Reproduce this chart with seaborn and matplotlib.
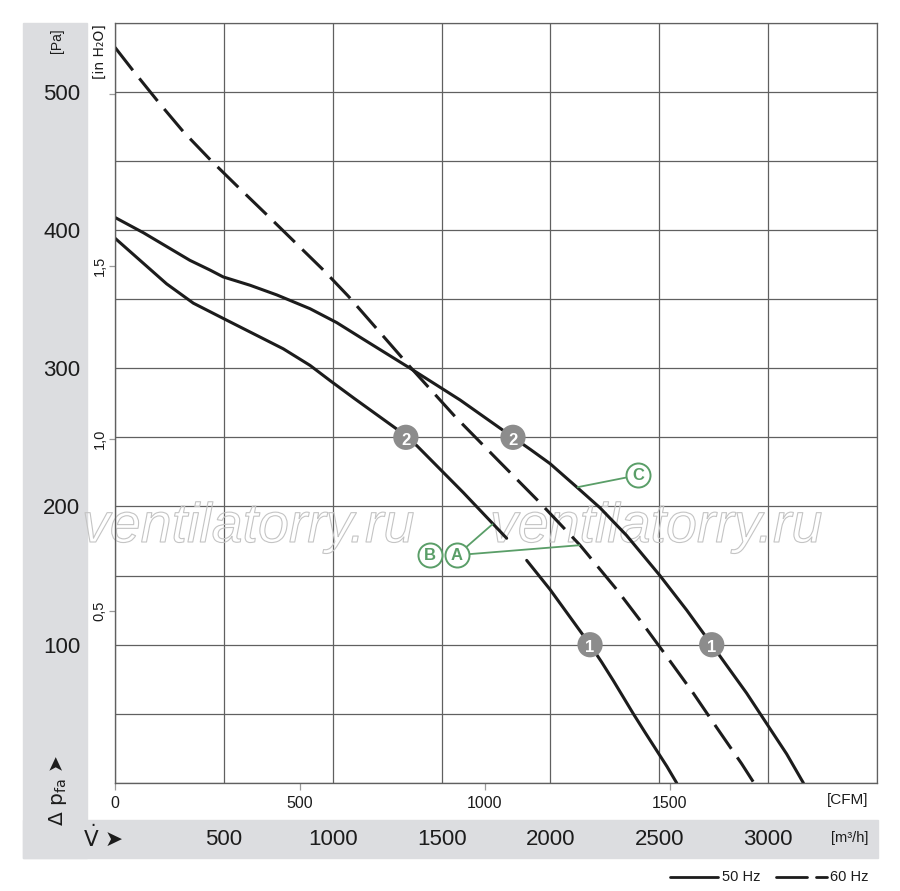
import matplotlib
matplotlib.use("Agg")
import matplotlib.pyplot as plt
import matplotlib.patheffects as pe
from matplotlib.patches import Rectangle
from matplotlib.lines import Line2D
from matplotlib.ticker import MultipleLocator, FuncFormatter
import seaborn as sns
import numpy as np
import pandas as pd

# fan curves: air flow [m³/h] vs static pressure [Pa]
flow_60 = [0, 84, 207, 314, 436, 559, 697, 827, 957, 1072, 1355, 1562, 1768, 1944, 2136,
           2304, 2420, 2518, 2656, 2764, 2878, 2935]
pa_60 = [532, 515, 491, 471, 451, 432, 411, 391, 371, 352, 301, 265, 232, 204, 172,
         140, 116, 95, 65, 40, 14, 0]

flow_50_hi = [0, 130, 344, 436, 497, 620, 743, 896, 1018, 1140, 1355, 1585, 1828, 1910, 1998,
              2121, 2228, 2350, 2503, 2626, 2741, 2901, 2993, 3085, 3162]
pa_50_hi = [409, 398, 378, 371, 366, 360, 353, 343, 333, 321, 300, 277, 250, 241, 231,
            214, 199, 179, 150, 125, 100, 65, 43, 21, 0]

# lower 50 Hz curve is drawn in two pieces (gap near label B)
flow_50_lo_a = [0, 237, 360, 497, 635, 773, 896, 988, 1100, 1294, 1336, 1386, 1600, 1799]
pa_50_lo_a = [394, 361, 347, 336, 325, 314, 302, 291, 278, 256, 250, 244, 210, 177]
flow_50_lo_b = [1891, 1998, 2090, 2182, 2235, 2289, 2335, 2381, 2435, 2488, 2535, 2580]
pa_50_lo_b = [161, 140, 120, 100, 87.5, 74, 62, 50, 36.5, 23.5, 12, 0]

# operating points
op_labels = ["2", "2", "1", "1"]
op_flow = [1336, 1828, 2182, 2741]
op_pa = [250, 250, 100, 100]

m3h_ticks = [500, 1000, 1500, 2000, 2500, 3000]
cfm_ticks = [0, 500, 1000, 1500]
pa_ticks = [100, 200, 300, 400, 500]
inh2o_ticks = [0.5, 1.0, 1.5, 2.0]
inh2o_labels = ["0,5", "1,0", "1,5", ""]

M3H_PER_CFM = 1.699
PA_PER_INH2O = 249.09
W, H = 900, 891

sns.set_style("white")
plt.rcParams["font.family"] = ["Liberation Sans", "DejaVu Sans"]

GRAY_BG = "#dcdde0"
GRID = "#606060"
INK = "#1c1c1c"
GREEN = "#5a9e68"


def fx(px):
    return px / W


def fy(py):
    return 1 - py / H


fig = plt.figure(figsize=(W / 100, H / 100), dpi=100)

# grey panels
fig.add_artist(Rectangle((fx(23), fy(858)), (87 - 23) / W, (858 - 23) / H,
                         transform=fig.transFigure, color=GRAY_BG, zorder=-1))
fig.add_artist(Rectangle((fx(23), fy(858)), (878 - 23) / W, (858 - 820) / H,
                         transform=fig.transFigure, color=GRAY_BG, zorder=-1))

ax = fig.add_axes([fx(115), fy(783), (877 - 115) / W, (783 - 22.5) / H])
ax.set_axisbelow(True)

# curves
curves = pd.concat([
    pd.DataFrame({"flow": flow_60, "pa": pa_60, "seg": "A", "freq": "60 Hz"}),
    pd.DataFrame({"flow": flow_50_hi, "pa": pa_50_hi, "seg": "C", "freq": "50 Hz"}),
    pd.DataFrame({"flow": flow_50_lo_a, "pa": pa_50_lo_a, "seg": "B1", "freq": "50 Hz"}),
    pd.DataFrame({"flow": flow_50_lo_b, "pa": pa_50_lo_b, "seg": "B2", "freq": "50 Hz"}),
], ignore_index=True)

sns.lineplot(data=curves, x="flow", y="pa", units="seg", estimator=None, style="freq",
             dashes={"50 Hz": "", "60 Hz": (9.5, 3.4)}, color=INK, lw=2.2,
             sort=False, legend=False, ax=ax, zorder=2)

# annotation leaders (A, B, C)
lab_a = (1571, 164.8)
lab_b = (1447, 164.8)
lab_c = (2402, 222.6)
tgt_c = 2122
tgt_a1 = 2136
tgt_a2 = 1736
lead_kw = dict(color=GREEN, lw=1.3, zorder=3, solid_capstyle="butt")
ax.plot([lab_c[0], tgt_c], [lab_c[1], np.interp(tgt_c, flow_50_hi, pa_50_hi)], **lead_kw)
ax.plot([lab_a[0], tgt_a1], [lab_a[1], np.interp(tgt_a1, flow_60, pa_60)], **lead_kw)
ax.plot([lab_a[0], tgt_a2], [lab_a[1], np.interp(tgt_a2, flow_50_lo_a, pa_50_lo_a)], **lead_kw)
for (lx, ly), t in [(lab_b, "B"), (lab_a, "A"), (lab_c, "C")]:
    ax.scatter([lx], [ly], s=300, facecolor="white", edgecolor=GREEN, lw=1.4, zorder=5)
    ax.text(lx, ly, t, color=GREEN, fontsize=12, fontweight="bold",
            ha="center", va="center", zorder=6)

# operating point markers
sns.scatterplot(x=op_flow, y=op_pa, s=330, color="#8c8c8c", edgecolor="none",
                ax=ax, zorder=5, legend=False)
for f, p, t in zip(op_flow, op_pa, op_labels):
    ax.text(f, p - 2, t, color="white", fontsize=12, fontweight="bold",
            ha="center", va="center", zorder=6)

# axes, grid
ax.set_xlim(0, 3500)
ax.set_ylim(0, 550)
ax.xaxis.set_major_locator(MultipleLocator(500))
ax.yaxis.set_major_locator(MultipleLocator(50))
ax.grid(True, color=GRID, lw=0.9)
ax.xaxis.set_major_formatter(FuncFormatter(lambda v, p: f"{v:.0f}" if round(v) in m3h_ticks else ""))
ax.yaxis.set_major_formatter(FuncFormatter(lambda v, p: f"{v:.0f}" if round(v) in pa_ticks else ""))
ax.tick_params(axis="x", length=0, pad=33, labelsize=16, labelcolor=INK)
ax.tick_params(axis="y", length=0, pad=25, labelsize=16, labelcolor=INK)
ax.set_xlabel("")
ax.set_ylabel("")
for s in ax.spines.values():
    s.set_color(GRID)
    s.set_linewidth(0.9)

secx = ax.secondary_xaxis("bottom", functions=(lambda x: x / M3H_PER_CFM, lambda x: x * M3H_PER_CFM))
secx.set_xticks(cfm_ticks)
secx.set_xticklabels([str(c) for c in cfm_ticks])
secx.tick_params(length=5, width=0.9, color="#9a9a9a", pad=4, labelsize=11.5, labelcolor=INK)
secx.spines["bottom"].set_color(GRID)

secy = ax.secondary_yaxis("left", functions=(lambda p: p / PA_PER_INH2O, lambda i: i * PA_PER_INH2O))
secy.set_yticks(inh2o_ticks)
secy.set_yticklabels(inh2o_labels, rotation=90, va="center")
secy.tick_params(length=4, width=0.9, color="#9a9a9a", pad=2, labelsize=10.5, labelcolor=INK)
secy.spines["left"].set_color(GRID)

# watermarks
for cx in (82, 490):
    ax.text(fx(cx), fy(542), "ventilatorry.ru", transform=fig.transFigure,
            fontsize=40, style="italic", family=["Liberation Sans", "DejaVu Sans"],
            color=(1, 1, 1, 0), ha="left", va="baseline", clip_on=False, zorder=1.5,
            path_effects=[pe.Stroke(linewidth=0.8, foreground="#c4c4c4")])

# axis titles and units
fig.text(fx(57), fy(41), "[Pa]", rotation=90, ha="center", va="center", fontsize=10, color=INK)
fig.text(fx(100), fy(52), "[in H₂O]", rotation=90, ha="center", va="center", fontsize=10,
         color=INK, family=["DejaVu Sans"])
fig.text(fx(58), fy(790), "Δ $\\mathregular{p_{fa}}$ ➤", rotation=90, ha="center", va="center",
         fontsize=14.5, color=INK, family=["DejaVu Sans"])
fig.text(fx(103), fy(838), "$\\mathregular{\\dot{V}}$ ➤", ha="center", va="center",
         fontsize=15.5, color=INK, family=["DejaVu Sans"])
fig.text(fx(868), fy(800), "[CFM]", ha="right", va="center", fontsize=11, color=INK)
fig.text(fx(868), fy(838), "[m³/h]", ha="right", va="center", fontsize=10.5, color=INK)

# legend
fig.add_artist(Line2D([fx(670), fx(718)], [fy(877), fy(877)], transform=fig.transFigure,
                      color=INK, lw=2))
fig.text(fx(722), fy(877), "50 Hz", ha="left", va="center", fontsize=10.5, color=INK)
fig.add_artist(Line2D([fx(776), fx(807)], [fy(877), fy(877)], transform=fig.transFigure,
                      color=INK, lw=2))
fig.add_artist(Line2D([fx(816), fx(827)], [fy(877), fy(877)], transform=fig.transFigure,
                      color=INK, lw=2))
fig.text(fx(830), fy(877), "60 Hz", ha="left", va="center", fontsize=10.5, color=INK)

fig.savefig("out.png", dpi=100, facecolor="white")
